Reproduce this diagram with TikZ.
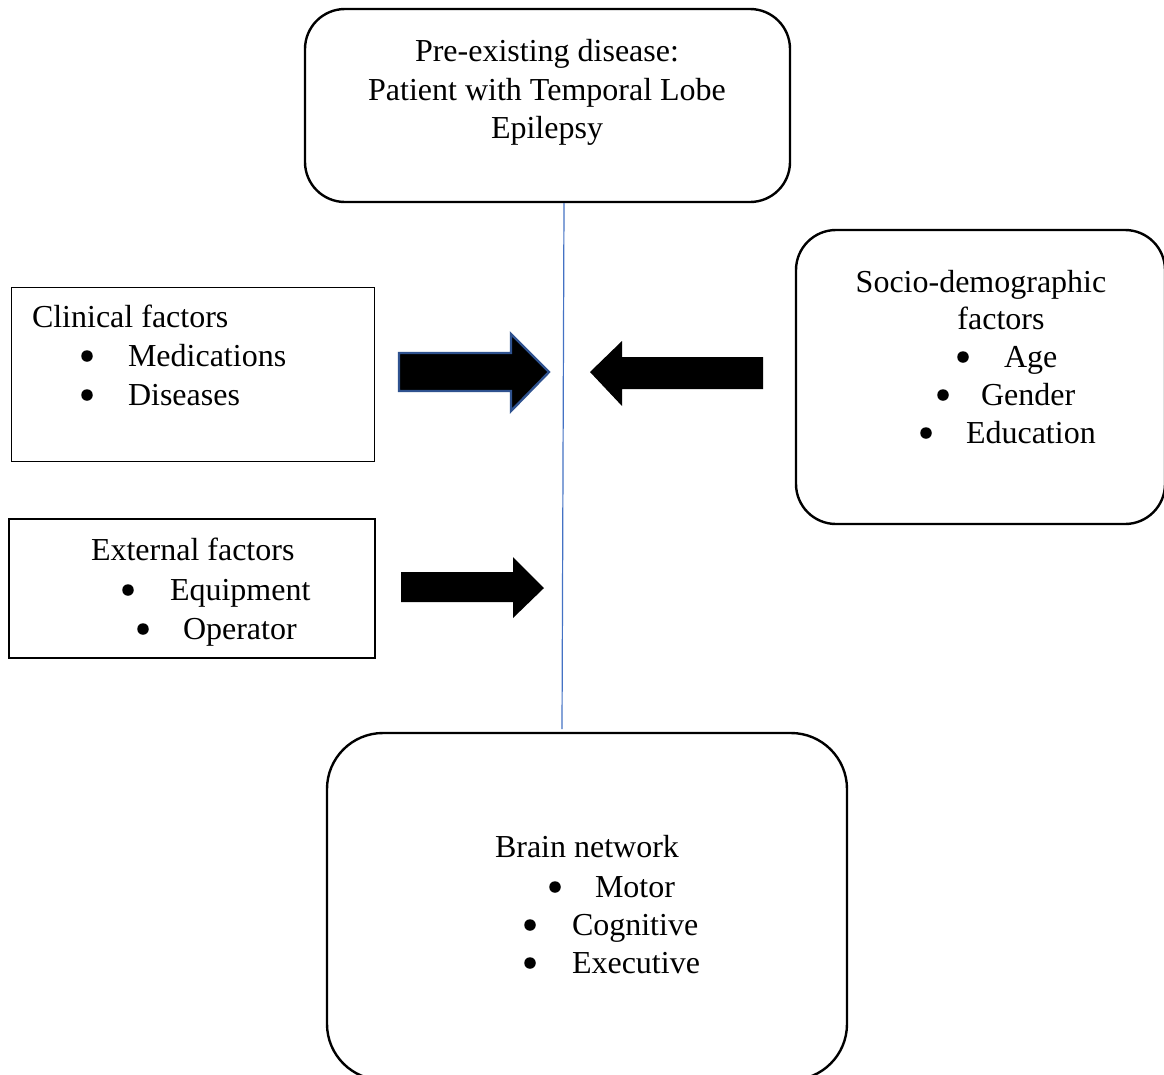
\documentclass[tikz,border=0pt]{standalone}
\usepackage{fontspec}
\setmainfont{Liberation Serif}
\definecolor{linkblue}{HTML}{4472C4}
\definecolor{edgeblue}{HTML}{2F528F}
\begin{document}
\begin{tikzpicture}[x=1pt,y=-1pt,
  every node/.style={inner sep=0pt, outer sep=0pt},
  txt/.style={font=\fontsize{32}{38.5}\selectfont, anchor=base west},
  ctxt/.style={font=\fontsize{32}{38.5}\selectfont, anchor=base},
  blt/.style={circle, fill=black, minimum size=11.5pt},
  roundbox/.style={draw=black, line width=2.4pt, rounded corners=#1},
  sqbox/.style={draw=black, line width=#1},
  blockarrow/.style={fill=black}
]
\useasboundingbox (0,0) rectangle (1164,1074);
\clip (0,0) rectangle (1164,1074);
\fill[white] (0,0) rectangle (1164,1074);

% boxes
\node[roundbox=40pt, minimum width=485pt, minimum height=193pt] (top) at (547.5,105.5) {};
\node[sqbox=1pt, minimum width=363pt, minimum height=174pt] (clin) at (192.5,374) {};
\node[sqbox=2pt, minimum width=366pt, minimum height=139pt] (ext) at (192,588.5) {};
\node[roundbox=40pt, minimum width=369pt, minimum height=294pt] (socio) at (980.5,377) {};
\node[roundbox=56pt, minimum width=520pt, minimum height=347pt] (brain) at (587,906.5) {};

% vertical connector
\coordinate (l1) at (564,203);
\coordinate (l2) at (562,729);
\draw[linkblue, line width=1.2pt] (l1) -- (l2);

% top text
\node[ctxt] (t1) at (547,61) {Pre-existing disease:};
\node[ctxt] (t2) at (547,100) {Patient with Temporal Lobe};
\node[ctxt] (t3) at (547,138) {Epilepsy};

% clinical
\node[txt] (c0) at (32,327) {Clinical factors};
\node[blt] (cb1) at (87,356) {};
\node[txt] (c1) at (128,366) {Medications};
\node[blt] (cb2) at (87,395) {};
\node[txt] (c2) at (128,405) {Diseases};

% external
\node[txt] (e0) at (91,560) {External factors};
\node[blt] (eb1) at (128,590) {};
\node[txt] (e1) at (170,600) {Equipment};
\node[blt] (eb2) at (143,629) {};
\node[txt] (e2) at (183,639) {Operator};

% socio
\node[ctxt] (s0) at (981,292) {Socio-demographic};
\node[ctxt] (s1) at (1001,329) {factors};
\node[blt] (sb1) at (963,357) {};
\node[txt] (s2) at (1004,367) {Age};
\node[blt] (sb2) at (943,395) {};
\node[txt] (s3) at (981,405) {Gender};
\node[blt] (sb3) at (926,433) {};
\node[txt] (s4) at (966,443) {Education};

% brain
\node[txt] (b0) at (495,857) {Brain network};
\node[blt] (bb1) at (555,887) {};
\node[txt] (b1) at (595,897) {Motor};
\node[blt] (bb2) at (530,925) {};
\node[txt] (b2) at (572,935) {Cognitive};
\node[blt] (bb3) at (530,963) {};
\node[txt] (b3) at (572,973) {Executive};

% block arrows
\filldraw[blockarrow, draw=edgeblue, line width=2.4pt, line join=miter]
  (399,353) -- (511,353) -- (511,334) -- (549,372) -- (511,411) -- (511,391) -- (399,391) -- cycle;
\fill[blockarrow]
  (763,357) -- (622,357) -- (622,341) -- (590,372) -- (622,406) -- (622,389) -- (763,389) -- cycle;
\fill[blockarrow]
  (401,572) -- (513,572) -- (513,557) -- (544,588) -- (513,618) -- (513,602) -- (401,602) -- cycle;
\end{tikzpicture}
\end{document}
